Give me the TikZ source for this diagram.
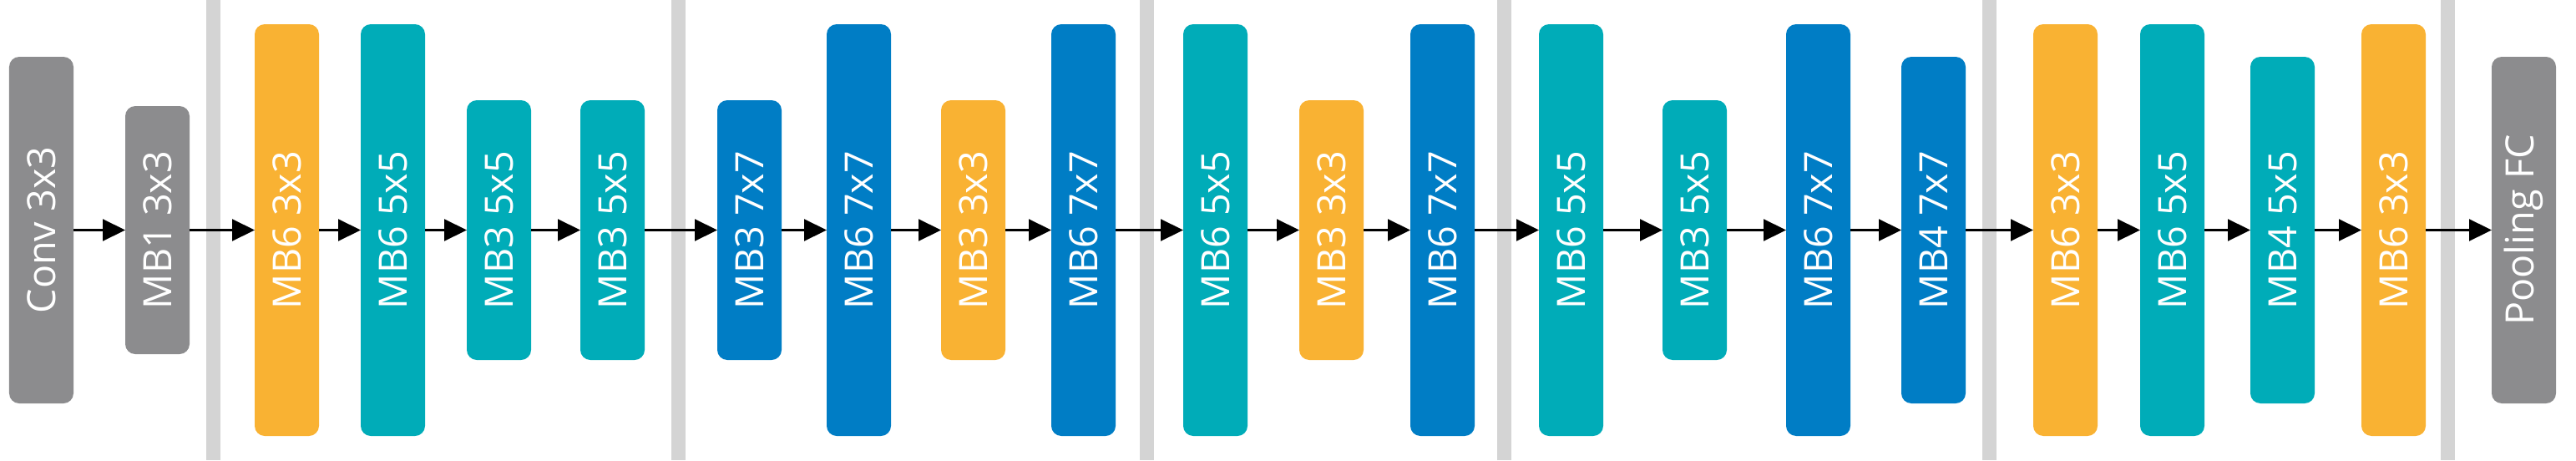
\documentclass[tikz,border=0pt]{standalone}
\usepackage{fontspec}
\setmainfont{Open Sans}
\usetikzlibrary{arrows.meta, positioning}
\definecolor{blkgray}{HTML}{8C8C8E}
\definecolor{blkorange}{HTML}{F9B233}
\definecolor{blkteal}{HTML}{00ACB8}
\definecolor{blkblue}{HTML}{007DC5}
\definecolor{sepgray}{HTML}{D4D4D4}

\newcommand{\vlabel}[1]{\rotatebox{90}{#1}}

\begin{document}
\begin{tikzpicture}[
  node distance=0.5cm,
  block/.style={rectangle, rounded corners=0.12cm, minimum width=0.77cm, inner sep=0pt, outer sep=0pt, text=white, font=\fontsize{13.3}{16}\selectfont},
  plainbox/.style={block, fill=blkgray},
  kthree/.style={block, fill=blkorange},
  kfive/.style={block, fill=blkteal},
  kseven/.style={block, fill=blkblue},
  hsix/.style={minimum height=4.93cm},
  hfour/.style={minimum height=4.15cm},
  hthree/.style={minimum height=3.11cm},
  hone/.style={minimum height=2.97cm},
  flow/.style={-{Triangle[length=0.27cm, width=0.26cm]}, line width=0.6pt}
]
  \useasboundingbox (0,-2.755) rectangle (30.85,2.755);

  % Stage separators (behind everything)
  \fill[sepgray] (2.47,-2.755) rectangle (2.64,2.755);
  \fill[sepgray] (8.035,-2.755) rectangle (8.205,2.755);
  \fill[sepgray] (13.645,-2.755) rectangle (13.815,2.755);
  \fill[sepgray] (17.93,-2.755) rectangle (18.10,2.755);
  \fill[sepgray] (23.74,-2.755) rectangle (23.91,2.755);
  \fill[sepgray] (29.225,-2.755) rectangle (29.395,2.755);

  % Stem
  \node[plainbox, hfour] (conv) at (0.495,0) {\vlabel{Conv 3x3}};
  \node[plainbox, hone, right=0.62cm of conv] (mb1) {\vlabel{MB1 3x3}};

  % Stage 1
  \node[kthree, hsix, right=0.78cm of mb1] (s1-a) {\vlabel{MB6 3x3}};
  \node[kfive, hsix, right=0.50cm of s1-a] (s1-b) {\vlabel{MB6 5x5}};
  \node[kfive, hthree, right=0.50cm of s1-b] (s1-c) {\vlabel{MB3 5x5}};
  \node[kfive, hthree, right=0.59cm of s1-c] (s1-d) {\vlabel{MB3 5x5}};

  % Stage 2
  \node[kseven, hthree, right=0.87cm of s1-d] (s2-a) {\vlabel{MB3 7x7}};
  \node[kseven, hsix, right=0.54cm of s2-a] (s2-b) {\vlabel{MB6 7x7}};
  \node[kthree, hthree, right=0.60cm of s2-b] (s2-c) {\vlabel{MB3 3x3}};
  \node[kseven, hsix, right=0.55cm of s2-c] (s2-d) {\vlabel{MB6 7x7}};

  % Stage 3
  \node[kfive, hsix, right=0.81cm of s2-d] (s3-a) {\vlabel{MB6 5x5}};
  \node[kthree, hthree, right=0.62cm of s3-a] (s3-b) {\vlabel{MB3 3x3}};
  \node[kseven, hsix, right=0.56cm of s3-b] (s3-c) {\vlabel{MB6 7x7}};

  % Stage 4
  \node[kfive, hsix, right=0.77cm of s3-c] (s4-a) {\vlabel{MB6 5x5}};
  \node[kfive, hthree, right=0.71cm of s4-a] (s4-b) {\vlabel{MB3 5x5}};
  \node[kseven, hsix, right=0.71cm of s4-b] (s4-c) {\vlabel{MB6 7x7}};
  \node[kseven, hfour, right=0.61cm of s4-c] (s4-d) {\vlabel{MB4 7x7}};

  % Stage 5
  \node[kthree, hsix, right=0.81cm of s4-d] (s5-a) {\vlabel{MB6 3x3}};
  \node[kfive, hsix, right=0.51cm of s5-a] (s5-b) {\vlabel{MB6 5x5}};
  \node[kfive, hfour, right=0.55cm of s5-b] (s5-c) {\vlabel{MB4 5x5}};
  \node[kthree, hsix, right=0.56cm of s5-c] (s5-d) {\vlabel{MB6 3x3}};

  % Head
  \node[plainbox, hfour, right=0.79cm of s5-d] (pool) {\vlabel{Pooling FC}};

  % Connections
  \draw[flow] (conv) -- (mb1);
  \draw[flow] (mb1) -- (s1-a);
  \draw[flow] (s1-a) -- (s1-b);
  \draw[flow] (s1-b) -- (s1-c);
  \draw[flow] (s1-c) -- (s1-d);
  \draw[flow] (s1-d) -- (s2-a);
  \draw[flow] (s2-a) -- (s2-b);
  \draw[flow] (s2-b) -- (s2-c);
  \draw[flow] (s2-c) -- (s2-d);
  \draw[flow] (s2-d) -- (s3-a);
  \draw[flow] (s3-a) -- (s3-b);
  \draw[flow] (s3-b) -- (s3-c);
  \draw[flow] (s3-c) -- (s4-a);
  \draw[flow] (s4-a) -- (s4-b);
  \draw[flow] (s4-b) -- (s4-c);
  \draw[flow] (s4-c) -- (s4-d);
  \draw[flow] (s4-d) -- (s5-a);
  \draw[flow] (s5-a) -- (s5-b);
  \draw[flow] (s5-b) -- (s5-c);
  \draw[flow] (s5-c) -- (s5-d);
  \draw[flow] (s5-d) -- (pool);
\end{tikzpicture}
\end{document}
